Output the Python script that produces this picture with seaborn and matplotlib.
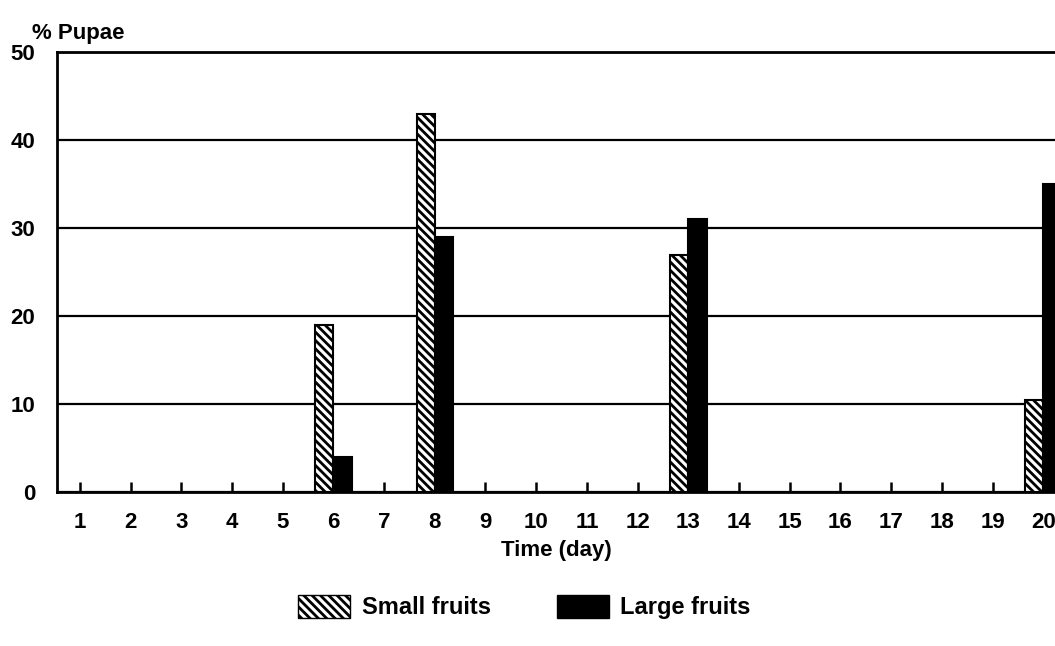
import matplotlib
matplotlib.use("Agg")
import matplotlib.pyplot as plt
import matplotlib.patches as mpatches
import pandas as pd
import seaborn as sns

# data
days = list(range(1, 21))
small_fruits = [0, 0, 0, 0, 0, 19, 0, 43, 0, 0, 0, 0, 27, 0, 0, 0, 0, 0, 0, 10.5]
large_fruits = [0, 0, 0, 0, 0, 4, 0, 29, 0, 0, 0, 0, 31, 0, 0, 0, 0, 0, 0, 35]
groups = ["Small fruits", "Large fruits"]

df = pd.DataFrame({
    "day": [str(d) for d in days] * 2,
    "group": [groups[0]] * len(days) + [groups[1]] * len(days),
    "pct": small_fruits + large_fruits,
})

sns.set_style("white")
plt.rcParams["font.family"] = ["Liberation Sans", "DejaVu Sans"]
plt.rcParams["font.weight"] = "bold"
plt.rcParams["text.color"] = "black"
plt.rcParams["hatch.linewidth"] = 2.0

fig = plt.figure(figsize=(10.55, 6.46), dpi=100)
ax = fig.add_axes([0.054, 0.238, 0.946, 0.6815])

sns.barplot(data=df, x="day", y="pct", hue="group", order=[str(d) for d in days],
            hue_order=groups, palette=["white", "black"], width=0.72,
            edgecolor="black", linewidth=1.5, legend=False, ax=ax)

hatch = "\\\\\\\\"
# hatch the small-fruit bars, hide empty ones
for bar in ax.containers[0]:
    bar.set_hatch(hatch)
    bar.set_edgecolor("black")
    if bar.get_height() == 0:
        bar.set_visible(False)
for bar in ax.containers[1]:
    if bar.get_height() == 0:
        bar.set_visible(False)

ax.set_ylim(0, 50)
ax.set_xlim(-0.45, 19.23)
ax.set_yticks([0, 10, 20, 30, 40, 50])
ax.yaxis.grid(True, color="black", linewidth=1.6)
ax.set_axisbelow(True)
for s in ["left", "bottom", "top"]:
    ax.spines[s].set_color("black")
    ax.spines[s].set_linewidth(2)
ax.spines["right"].set_visible(False)
ax.tick_params(axis="x", bottom=True, direction="in", length=7, width=1.8, color="black",
               pad=14, labelsize=16, labelcolor="black")
ax.tick_params(axis="y", left=False, pad=12, labelsize=16, labelcolor="black")

ax.set_xlabel("Time (day)", fontsize=16, fontweight="bold", color="black", labelpad=5)
ax.set_ylabel("")
fig.text(0.03, 0.932, "% Pupae", fontsize=16, fontweight="bold", ha="left", va="bottom")

handles = [mpatches.Patch(facecolor="white", edgecolor="black", hatch=hatch),
           mpatches.Patch(facecolor="black", edgecolor="black")]
fig.legend(handles, groups, loc="center", bbox_to_anchor=(0.497, 0.06), ncol=2,
           frameon=False, fontsize=17, handlelength=2.2, handleheight=1.1,
           columnspacing=2.8, handletextpad=0.5)

fig.savefig("out.png", dpi=100)
